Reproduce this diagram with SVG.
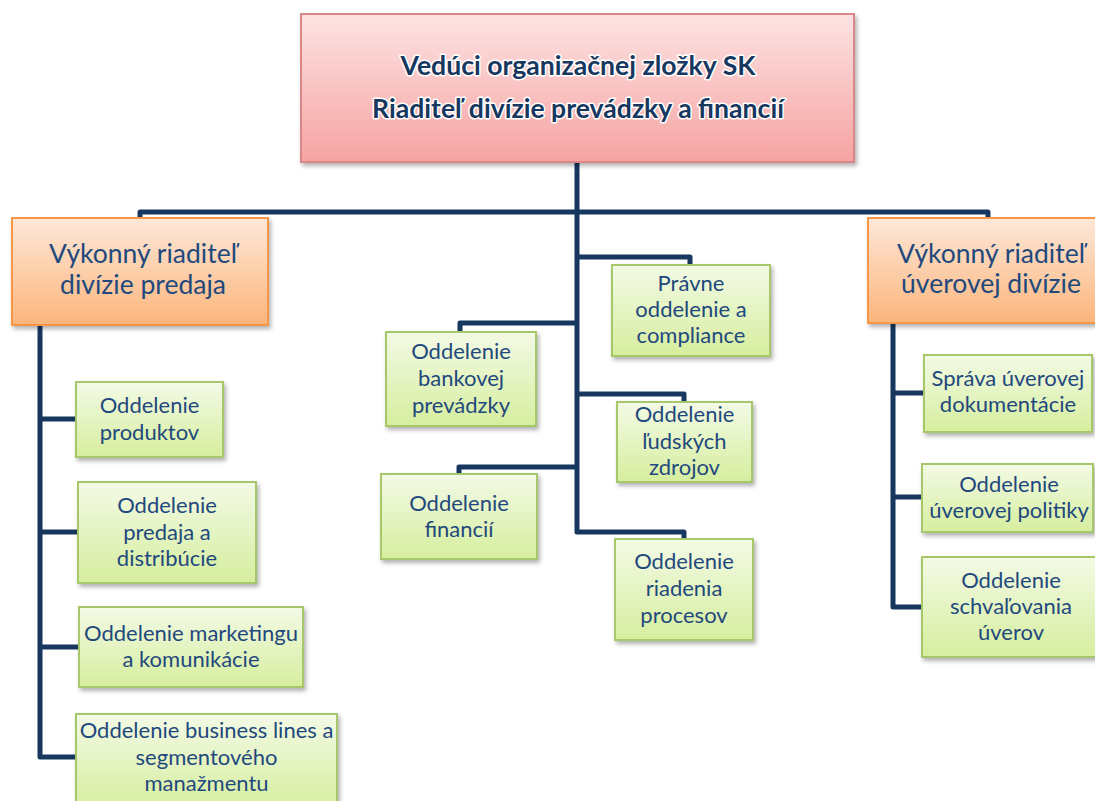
<svg xmlns="http://www.w3.org/2000/svg" width="1095" height="801" viewBox="0 0 1095 801">
<defs>
<linearGradient id="gRed" x1="0" y1="0" x2="0" y2="1"><stop offset="0" stop-color="#fde3e3"/><stop offset="1" stop-color="#f6a3a2"/></linearGradient>
<linearGradient id="gOr" x1="0" y1="0" x2="0" y2="1"><stop offset="0" stop-color="#fee8d8"/><stop offset="1" stop-color="#fbb57c"/></linearGradient>
<linearGradient id="gGr" x1="0" y1="0" x2="0" y2="1"><stop offset="0" stop-color="#f3fae6"/><stop offset="1" stop-color="#d6ee9e"/></linearGradient>
<filter id="sh" x="-10%" y="-10%" width="130%" height="140%"><feDropShadow dx="2" dy="3" stdDeviation="2" flood-color="#000" flood-opacity="0.3"/></filter>
</defs>
<style>
.red{fill:url(#gRed);stroke:#d98887;stroke-width:2;filter:url(#sh)}
.or{fill:url(#gOr);stroke:#f79646;stroke-width:2;filter:url(#sh)}
.gr{fill:url(#gGr);stroke:#a6c86b;stroke-width:2;filter:url(#sh)}
text{font-family:Lato,"Open Sans","Liberation Sans",sans-serif;fill:#1f497d;text-anchor:middle}
.t{font-size:26.6px;font-weight:bold;fill:#17375e;stroke:#fff;stroke-width:3;paint-order:stroke;stroke-linejoin:round}
.o{font-size:26.5px}
.g{font-size:22px}
.c{fill:none;stroke:#17375e;stroke-width:5;stroke-linejoin:round;stroke-linecap:butt}
</style>
<g id="connectors" class="c">
<path d="M577,162 V532 H684 V539"/>
<path d="M140,218 V212 H988 V218"/>
<path d="M577,257 H690 V265"/>
<path d="M577,323 H460 V332"/>
<path d="M577,394 H684 V402"/>
<path d="M577,467 H459 V474"/>
<path d="M40,325 V757 H76"/>
<path d="M40,419 H76"/>
<path d="M40,532 H78"/>
<path d="M40,647 H79"/>
<path d="M893,323 V607 H922"/>
<path d="M893,393 H924"/>
<path d="M893,497 H922"/>
</g>
<g id="top"><rect class="red" x="301" y="14" width="553" height="148"/>
<text class="t" x="578" y="75">Vedúci organizačnej zložky SK</text>
<text class="t" x="578" y="118">Riaditeľ divízie prevádzky a financií</text></g>
<g id="sales"><rect class="or" x="12" y="218" width="256" height="107"/>
<text class="o" x="143" y="263">Výkonný riaditeľ</text>
<text class="o" x="143" y="294">divízie predaja</text></g>
<g id="credit"><rect class="or" x="868" y="218" width="240" height="105"/>
<text class="o" x="991" y="263">Výkonný riaditeľ</text>
<text class="o" x="991" y="293">úverovej divízie</text></g>
<g id="produkty"><rect class="gr" x="76" y="382" width="147" height="75"/>
<text class="g" x="149.5" y="413">Oddelenie</text>
<text class="g" x="149.5" y="440">produktov</text></g>
<g id="predaj"><rect class="gr" x="78" y="482" width="178" height="101"/>
<text class="g" x="167" y="513">Oddelenie</text>
<text class="g" x="167" y="540">predaja a</text>
<text class="g" x="167" y="566">distribúcie</text></g>
<g id="marketing"><rect class="gr" x="79" y="607" width="224" height="80"/>
<text class="g" x="191" y="641">Oddelenie marketingu</text>
<text class="g" x="191" y="667">a komunikácie</text></g>
<g id="business"><rect class="gr" x="76" y="714" width="261" height="95"/>
<text class="g" x="206.5" y="738">Oddelenie business lines a</text>
<text class="g" x="206.5" y="765">segmentového</text>
<text class="g" x="206.5" y="791">manažmentu</text></g>
<g id="pravne"><rect class="gr" x="612" y="265" width="158" height="91"/>
<text class="g" x="691" y="291">Právne</text>
<text class="g" x="691" y="317">oddelenie a</text>
<text class="g" x="691" y="343">compliance</text></g>
<g id="bankova"><rect class="gr" x="386" y="332" width="150" height="94"/>
<text class="g" x="461" y="359">Oddelenie</text>
<text class="g" x="461" y="386">bankovej</text>
<text class="g" x="461" y="413">prevádzky</text></g>
<g id="ludske"><rect class="gr" x="617" y="402" width="135" height="80"/>
<text class="g" x="684.5" y="422">Oddelenie</text>
<text class="g" x="684.5" y="449">ľudských</text>
<text class="g" x="684.5" y="475">zdrojov</text></g>
<g id="financie"><rect class="gr" x="381" y="474" width="156" height="85"/>
<text class="g" x="459" y="511">Oddelenie</text>
<text class="g" x="459" y="537">financií</text></g>
<g id="procesy"><rect class="gr" x="615" y="539" width="138" height="101"/>
<text class="g" x="684" y="569">Oddelenie</text>
<text class="g" x="684" y="596">riadenia</text>
<text class="g" x="684" y="623">procesov</text></g>
<g id="sprava"><rect class="gr" x="924" y="355" width="168" height="77"/>
<text class="g" x="1008" y="386">Správa úverovej</text>
<text class="g" x="1008" y="412">dokumentácie</text></g>
<g id="politika"><rect class="gr" x="922" y="464" width="171" height="68"/>
<text class="g" x="1009" y="492">Oddelenie</text>
<text class="g" x="1009" y="518">úverovej politiky</text></g>
<g id="schvalovanie"><rect class="gr" x="922" y="557" width="180" height="100"/>
<text class="g" x="1011" y="588">Oddelenie</text>
<text class="g" x="1011" y="614">schvaľovania</text>
<text class="g" x="1011" y="640">úverov</text></g>
</svg>
